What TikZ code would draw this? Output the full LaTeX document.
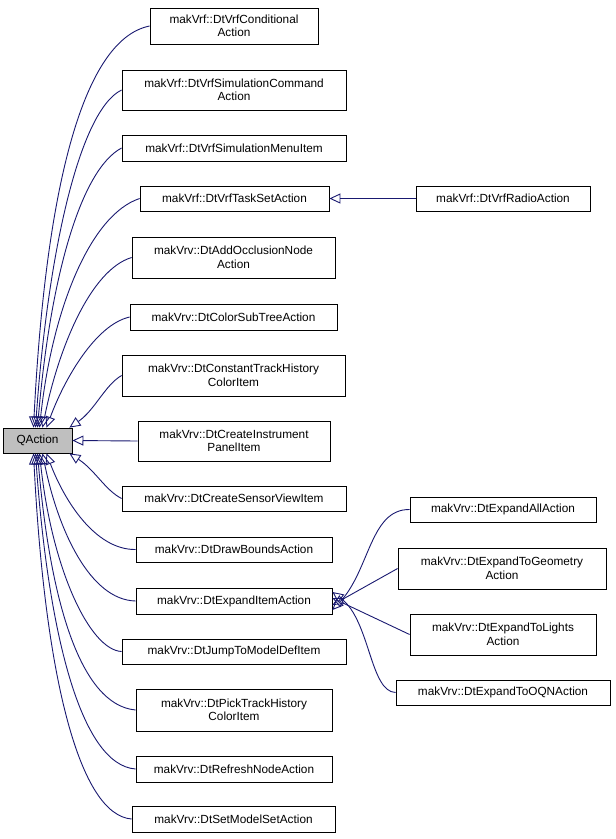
\documentclass[tikz,border=0pt]{standalone}
\usepackage{fontspec}
\setmainfont{Liberation Sans}
\usetikzlibrary{arrows.meta}
\definecolor{edgeblue}{HTML}{191970}
\begin{document}
\begin{tikzpicture}[x=1pt,y=-1pt,
  box/.style={draw=black,line width=0.8pt,fill=white,inner sep=0pt,align=center,font=\fontsize{11.8}{13.5}\selectfont},
  edge/.style={draw=edgeblue,line width=0.9pt,{Triangle[open,length=11pt,width=10pt]}-}]
\useasboundingbox (0,0) rectangle (616,839);
\newcommand\bx[6]{\node[box,minimum width=#4-#3,minimum height=#6-#5] (#1) at ({(#3+#4)/2},{(#5+#6)/2}) {#2};}
\node[box,fill=black!25,minimum width=69,minimum height=25] (q) at (37.5,440.5) {QAction};
\bx{a}{makVrf::DtVrfConditional\\Action}{150}{318}{8}{44}
\bx{b}{makVrf::DtVrfSimulationCommand\\Action}{122}{346}{70}{110}
\bx{c}{makVrf::DtVrfSimulationMenuItem}{122}{346}{135}{161}
\bx{d}{makVrf::DtVrfTaskSetAction}{140}{329}{186}{211}
\bx{e}{makVrv::DtAddOcclusionNode\\Action}{132}{335}{237}{278}
\bx{f}{makVrv::DtColorSubTreeAction}{130}{337}{304}{330}
\bx{g}{makVrv::DtConstantTrackHistory\\ColorItem}{122}{345}{355}{396}
\bx{h}{makVrv::DtCreateInstrument\\PanelItem}{138}{330}{421}{461}
\bx{i}{makVrv::DtCreateSensorViewItem}{122}{346}{486}{511}
\bx{j}{makVrv::DtDrawBoundsAction}{136}{332}{537}{562}
\bx{k}{makVrv::DtExpandItemAction}{136}{332}{588}{614}
\bx{l}{makVrv::DtJumpToModelDefItem}{122}{346}{639}{664}
\bx{m}{makVrv::DtPickTrackHistory\\ColorItem}{136}{332}{689}{731}
\bx{n}{makVrv::DtRefreshNodeAction}{136}{332}{756}{782}
\bx{o}{makVrv::DtSetModelSetAction}{132}{335}{806}{832}
\bx{r}{makVrf::DtVrfRadioAction}{416}{590}{186}{211}
\bx{s}{makVrv::DtExpandAllAction}{410}{596}{497}{522}
\bx{t}{makVrv::DtExpandToGeometry\\Action}{398}{606}{548}{589}
\bx{u}{makVrv::DtExpandToLights\\Action}{410}{596}{614}{655}
\bx{v}{makVrv::DtExpandToOQNAction}{396}{610}{680}{705}
% edges to QAction (top)
\draw[edge] ([xshift=-4]q.north) .. controls (45,200) and (80,40) .. (a.west);
\draw[edge] ([xshift=-2]q.north) .. controls (48,250) and (80,110) .. (b.west);
\draw[edge] ([xshift=0]q.north) .. controls (50,280) and (80,170) .. (c.west);
\draw[edge] ([xshift=2]q.north) .. controls (52,310) and (90,215) .. (d.west);
\draw[edge] ([xshift=5]q.north) .. controls (58,350) and (90,270) .. (e.west);
\draw[edge] ([xshift=9]q.north) .. controls (64,380) and (95,325) .. (f.west);
\draw[edge] ([xshift=-3]q.north east) .. controls (95,410) and (105,385) .. (g.west);
\draw[edge] (q.east) -- (h.west);
\draw[edge] ([xshift=-3]q.south east) .. controls (95,470) and (105,490) .. (i.west);
% edges to QAction (bottom)
\draw[edge] ([xshift=9]q.south) .. controls (64,500) and (95,550) .. (j.west);
\draw[edge] ([xshift=5]q.south) .. controls (58,530) and (90,600) .. (k.west);
\draw[edge] ([xshift=2]q.south) .. controls (52,570) and (90,650) .. (l.west);
\draw[edge] ([xshift=0]q.south) .. controls (50,600) and (80,705) .. (m.west);
\draw[edge] ([xshift=-2]q.south) .. controls (48,630) and (80,765) .. (n.west);
\draw[edge] ([xshift=-4]q.south) .. controls (45,680) and (80,815) .. (o.west);
% right side
\draw[edge] (d.east) -- (r.west);
\draw[edge] ([yshift=-9]k.east) .. controls (370,570) and (370,509) .. (s.west);
\draw[edge] ([yshift=-4]k.east) -- (t.west);
\draw[edge] ([yshift=3]k.east) -- (u.west);
\draw[edge] ([yshift=9]k.east) .. controls (370,620) and (370,692) .. (v.west);
\end{tikzpicture}
\end{document}
